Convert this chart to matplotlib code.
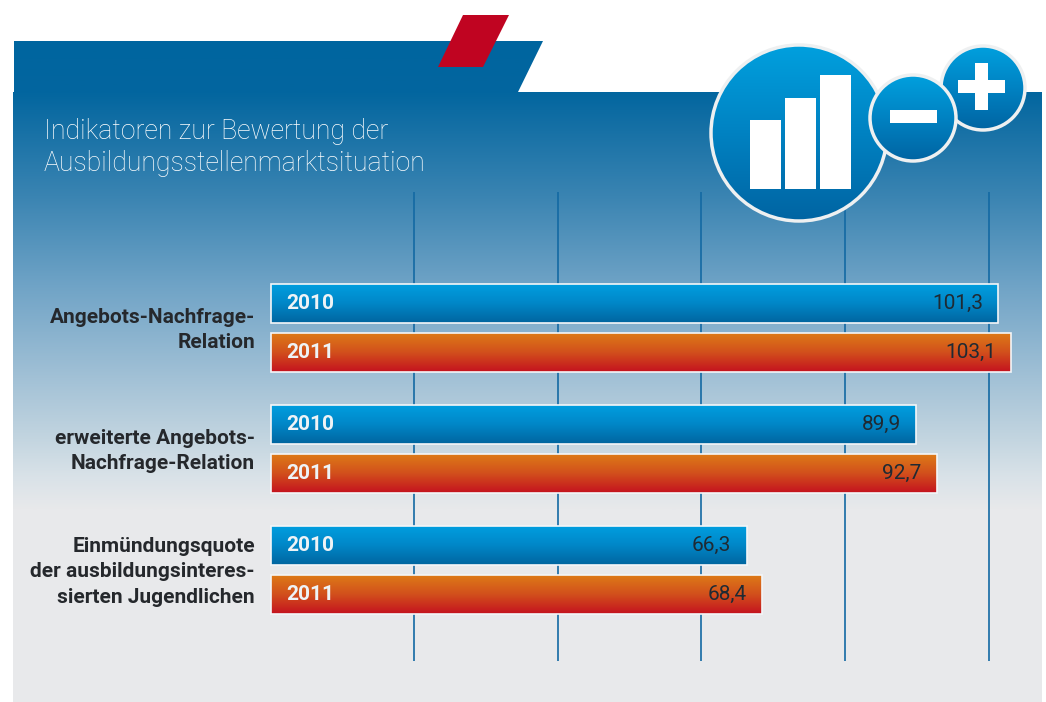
import numpy as np
import matplotlib
matplotlib.use('Agg')
import matplotlib.pyplot as plt
from matplotlib.colors import LinearSegmentedColormap
from matplotlib.patches import Polygon, Circle, Rectangle
from matplotlib.transforms import ScaledTranslation

plt.rcParams['font.family'] = ['Roboto', 'Open Sans', 'DejaVu Sans']

title = 'Indikatoren zur Bewertung der\nAusbildungsstellenmarktsituation'
categories = ['Angebots-Nachfrage-\nRelation',
              'erweiterte Angebots-\nNachfrage-Relation',
              'Einmündungsquote\nder ausbildungsinteres-\nsierten Jugendlichen']
years = ['2010', '2011']
values_2010 = [101.3, 89.9, 66.3]
values_2011 = [103.1, 92.7, 68.4]
grid_ticks = [20, 40, 60, 80, 100]


def grad(colors):
    return LinearSegmentedColormap.from_list('g', colors)


def grad_fill(ax, extent, cmap, clip, zorder):
    im = ax.imshow(np.linspace(0, 1, 256).reshape(-1, 1), cmap=cmap, aspect='auto',
                   extent=extent, zorder=zorder, interpolation='bilinear', origin='upper')
    im.set_clip_path(clip)
    return im


fig = plt.figure(figsize=(10.46, 7.02), dpi=100, facecolor='white')

# hintergrund, koordinaten in pixeln
bg = fig.add_axes([0, 0, 1, 1], zorder=0)
bg.set_xlim(0, 1046)
bg.set_ylim(702, 0)
bg.axis('off')
panel = Polygon([(14, 41), (543, 41), (518, 92), (1042, 92), (1042, 702), (13, 702), (13, 92), (14, 92)],
                closed=True, fc='none', ec='none')
bg.add_patch(panel)
panel_cmap = LinearSegmentedColormap.from_list('panel', [
    (0.0, '#00659f'), (0.11, '#03669f'), (0.33, '#3a84b2'), (0.52, '#6fa3c6'),
    (0.72, '#a2c1d6'), (0.85, '#c3d5e0'), (0.93, '#d9e2e8'), (1.0, '#e8e9eb')])
grad_fill(bg, (13, 1042, 510, 41), panel_cmap, panel, 1)
bg.add_patch(Rectangle((13, 510), 1029, 192, fc='#e8e9eb', ec='none', zorder=1))
bg.add_patch(Polygon([(482, 15), (509, 15), (483, 67), (438, 67), (463, 15)], closed=True,
                     fc='#c00421', ec='none', zorder=2))
bg.text(44, 147.5, title, color='white', fontsize=19.2, fontweight='light', ha='left', va='center',
        linespacing=1.25, zorder=3)

# balken
px = 7.19
ax = fig.add_axes([270 / 1046, (702 - 661) / 702, 776 / 1046, 469 / 702], zorder=1)
ax.patch.set_alpha(0)
ax.set_xlim(0, 776 / px)
ylim = (2.752, -1.124)
ax.set_ylim(*ylim)
for s in ax.spines.values():
    s.set_visible(False)
ax.set_xticks(grid_ticks)
ax.set_xticklabels([])
ax.tick_params(axis='both', length=0)
ax.grid(axis='x', color='#1369a3', lw=1.2, zorder=1)
ax.set_axisbelow(True)
ypos = np.arange(len(categories))
ax.set_yticks(ypos)
ax.set_yticklabels(categories, fontsize=15, fontweight='bold', color='#25282c',
                   ha='right', linespacing=1.45)
ax.tick_params(axis='y', pad=10.8)
for lab in ax.get_yticklabels():
    lab.set_transform(lab.get_transform() + ScaledTranslation(0, 3.5 / 100, fig.dpi_scale_trans))

blue = grad(['#009fe0', '#0087c8', '#00659f'])
red = grad(['#de7d17', '#d2501c', '#c4121f'])
for vals, off, cm, yr in [(values_2010, -0.2, blue, years[0]), (values_2011, 0.203, red, years[1])]:
    bars = ax.barh(ypos + off, np.array(vals) - 0.2, height=0.325, left=0.2, fc='none', ec='#f4f6f8',
                   lw=1.2, zorder=4)
    for b, v, y in zip(bars, vals, ypos + off):
        grad_fill(ax, (0.2, v, y + 0.1625, y - 0.1625), cm, b, 3)
        ax.annotate(f'{v:.1f}'.replace('.', ','), (v, y), xytext=(-11, 0), textcoords='offset points',
                    ha='right', va='center', fontsize=15, color='#1f2a33', zorder=5)
        ax.annotate(yr, (0.2, y), xytext=(10.5, 0), textcoords='offset points', ha='left', va='center',
                    fontsize=15, fontweight='bold', color='#eef3f6', zorder=5)
ax.set_xlim(0, 776 / px)
ax.set_ylim(*ylim)

# icon oben rechts
top = fig.add_axes([0, 0, 1, 1], zorder=2)
top.patch.set_alpha(0)
top.set_xlim(0, 1046)
top.set_ylim(702, 0)
top.axis('off')
circ = grad(['#00a0de', '#0082c2', '#0064a2'])
for cx, cy, r, z in [(983, 88, 42, 3), (799, 133, 88, 5), (913, 118, 43, 7)]:
    c = Circle((cx, cy), r, fc='none', ec='#eef0f1', lw=2.5, zorder=z + 1)
    top.add_patch(c)
    grad_fill(top, (cx - r, cx + r, cy + r, cy - r), circ, c, z)
for x0, y0 in [(750, 120), (785, 98), (820, 75)]:
    top.add_patch(Rectangle((x0, y0), 31, 189 - y0, fc='white', ec='none', zorder=6))
top.add_patch(Rectangle((890, 110), 47, 13, fc='white', ec='none', zorder=9))
top.add_patch(Rectangle((958, 80), 47, 13, fc='white', ec='none', zorder=9))
top.add_patch(Rectangle((975, 63), 13, 47, fc='white', ec='none', zorder=9))
top.set_xlim(0, 1046)
top.set_ylim(702, 0)

fig.savefig('out.png', dpi=100)
